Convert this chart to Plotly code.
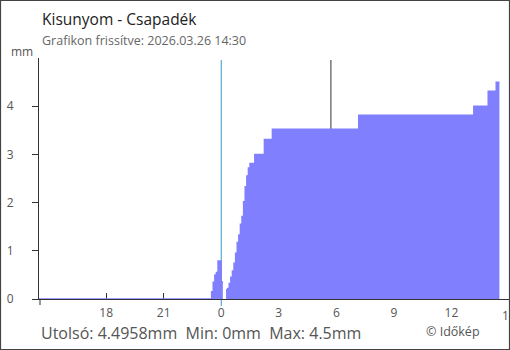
import plotly.graph_objects as go

# ---- data ----
times = [
    "2026-03-25 14:30", "2026-03-25 23:30", "2026-03-25 23:35", "2026-03-25 23:40",
    "2026-03-25 23:45", "2026-03-25 23:50", "2026-03-26 00:00", "2026-03-26 00:05",
    "2026-03-26 00:10", "2026-03-26 00:15", "2026-03-26 00:20", "2026-03-26 00:25",
    "2026-03-26 00:30", "2026-03-26 00:35", "2026-03-26 00:40", "2026-03-26 00:45",
    "2026-03-26 00:50", "2026-03-26 00:55", "2026-03-26 01:00", "2026-03-26 01:05",
    "2026-03-26 01:10", "2026-03-26 01:15", "2026-03-26 01:20", "2026-03-26 01:25",
    "2026-03-26 01:30", "2026-03-26 01:45", "2026-03-26 02:15", "2026-03-26 02:40",
    "2026-03-26 07:10", "2026-03-26 13:10", "2026-03-26 13:55", "2026-03-26 14:20",
    "2026-03-26 14:30",
]
precip_mm = [
    0.0, 0.15, 0.35, 0.50,
    0.55, 0.79, 0.36, 0.36,
    None, 0.19, 0.22, 0.32,
    0.45, 0.58, 0.74, 0.95,
    1.17, 1.33, 1.55, 1.71,
    2.02, 2.33, 2.55, 2.72,
    2.81, 3.00, 3.31, 3.52,
    3.81, 4.00, 4.31, 4.4958,
    4.4958,
]
tick_times = [
    "2026-03-25 18:00", "2026-03-25 21:00", "2026-03-26 00:00", "2026-03-26 03:00",
    "2026-03-26 06:00", "2026-03-26 09:00", "2026-03-26 12:00", "2026-03-26 15:00",
]
tick_labels = ["18", "21", "0", "3", "6", "9", "12", "15"]
y_ticks = [0, 1, 2, 3, 4]
midnight = "2026-03-26 00:00"
sunrise = "2026-03-26 05:43"
x_start, x_end = "2026-03-25 14:30", "2026-03-26 15:00"
title = "Kisunyom - Csapadék"
subtitle = "Grafikon frissítve: 2026.03.26 14:30"
last_val, min_val, max_val = "4.4958", "0", "4.5"

# ---- layout geometry ----
W, H = 510, 350
L, R, T, B = 39, 1, 58, 51
PW, PH = W - L - R, H - T - B


def px(x):
    return (x - L) / PW


def py(y):
    return (H - B - y) / PH


FONT = "Open Sans"
BLUE = "rgb(128,128,255)"
AX = "#333333"

# split series into contiguous segments at missing values
segments, cur = [], ([], [])
for t, v in zip(times, precip_mm):
    if v is None:
        if cur[0]:
            segments.append(cur)
        cur = ([], [])
    else:
        cur[0].append(t)
        cur[1].append(v)
if cur[0]:
    segments.append(cur)

fig = go.Figure()
for sx, sy in segments:
    fig.add_trace(go.Scatter(
        x=sx, y=sy, mode="lines", line_shape="hv",
        line=dict(color=BLUE, width=1.5), fill="tozeroy", fillcolor=BLUE,
        hoverinfo="skip", showlegend=False,
    ))

shapes = [
    dict(type="line", xref="x", yref="paper", x0=midnight, x1=midnight,
         y0=py(306), y1=py(60), line=dict(color="rgb(51,153,204)", width=1), layer="below"),
    dict(type="line", xref="x", yref="paper", x0=sunrise, x1=sunrise,
         y0=0, y1=py(60), line=dict(color=AX, width=1), layer="below"),
    dict(type="line", xref="paper", yref="paper", x0=px(40), x1=px(40),
         y0=py(305), y1=0, line=dict(color=AX, width=1)),
    dict(type="rect", xref="paper", yref="paper", x0=px(0.5), x1=px(509.5),
         y0=py(349.5), y1=py(0.5), line=dict(color="#444444", width=1.2)),
]

annotations = [
    dict(text=title, x=px(40), y=py(19), xanchor="left", yanchor="middle",
         font=dict(family=FONT, size=15.5, color="#222222")),
    dict(text=subtitle, x=px(40), y=py(40), xanchor="left", yanchor="middle",
         font=dict(family=FONT, size=12.5, color="#666666")),
    dict(text="mm", x=px(35), y=py(51), xanchor="right", yanchor="middle",
         font=dict(family=FONT, size=12, color="#555555")),
    dict(text=f"Utolsó: {last_val}mm\u00a0\u00a0Min: {min_val}mm\u00a0\u00a0Max: {max_val}mm",
         x=px(39), y=py(333), xanchor="left", yanchor="middle",
         font=dict(family=FONT, size=16, color="#555555")),
    dict(text="© Időkép", x=px(424), y=py(331), xanchor="left", yanchor="middle",
         font=dict(family=FONT, size=12.5, color="#555555")),
    # last tick label sits on the right edge of the image and is cut off there
    dict(text=tick_labels[-1], x=tick_times[-1], xref="x", y=py(315.5), xanchor="center",
         yanchor="middle", font=dict(family=FONT, size=12, color="#555555")),
]
for a in annotations:
    a.setdefault("xref", "paper")
    a.update(yref="paper", showarrow=False)

fig.update_layout(
    width=W, height=H, margin=dict(l=L, r=R, t=T, b=B, pad=0),
    paper_bgcolor="white", plot_bgcolor="white",
    font=dict(family=FONT, size=12, color="#555555"),
    shapes=shapes, annotations=annotations,
    xaxis=dict(
        type="date", range=[x_start, x_end], tickvals=tick_times, ticktext=tick_labels,
        ticks="inside", ticklen=6, tickcolor=AX, showline=True, linecolor=AX, linewidth=1,
        showgrid=False, zeroline=False, layer="below traces", fixedrange=True,
        ticklabelstandoff=3,
        tickfont=dict(family=FONT, size=12, color="#555555"),
    ),
    yaxis=dict(
        range=[0, 5], tickvals=y_ticks, ticks="outside", ticklen=6, tickcolor=AX,
        showline=True, linecolor=AX, linewidth=1, showgrid=False, zeroline=False,
        ticklabelstandoff=16, layer="below traces",
        tickfont=dict(family=FONT, size=12, color="#555555"),
    ),
    yaxis2=dict(
        overlaying="y", range=[0, 5], tickvals=y_ticks, ticks="inside", ticklen=6,
        tickcolor=AX, showticklabels=False, showline=False, showgrid=False,
        zeroline=False, side="left",
    ),
)

fig.write_html("out.html")
